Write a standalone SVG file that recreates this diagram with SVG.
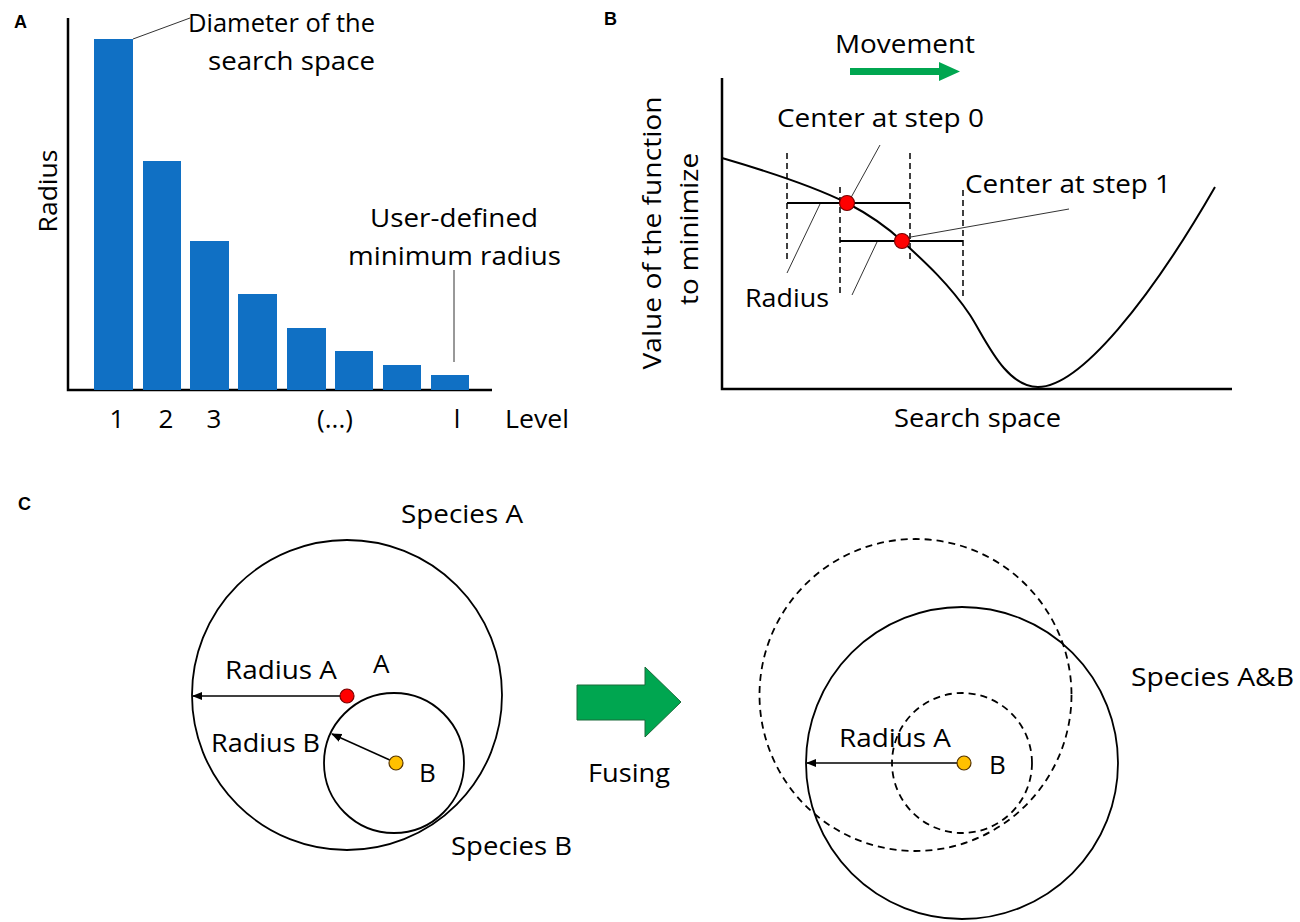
<svg xmlns="http://www.w3.org/2000/svg" width="1300" height="922" viewBox="0 0 1300 922">
<style>
text{font-family:"Open Sans","Liberation Sans",sans-serif;font-size:26px;fill:#000}
.lbl{font-family:"Liberation Sans",Arial,sans-serif;font-weight:bold;font-size:18px}
.axis{stroke:#000;stroke-width:2.5;fill:none}
.bar{fill:#1070C4}
.lead{stroke:#333;stroke-width:1;fill:none}
.dash{stroke:#000;stroke-width:1.5;stroke-dasharray:6,4;fill:none}
.circ{stroke:#000;stroke-width:1.8;fill:none}
.dcirc{stroke:#000;stroke-width:1.8;fill:none;stroke-dasharray:7,5}
.red{fill:#F00;stroke:#700;stroke-width:1.2}
.yel{fill:#FFC000;stroke:#553300;stroke-width:1.2}
.arr{stroke:#000;stroke-width:1.5;fill:none}
</style>
<defs>
<marker id="ah" viewBox="0 0 10 10" refX="9" refY="5" markerWidth="7" markerHeight="7" orient="auto"><path d="M0,1 L10,5 L0,9 z" fill="#000"/></marker>
</defs>

<g id="panelA">
<text class="lbl" x="14" y="28">A</text>
<path class="axis" d="M68,18 V390 H492"/>
<g id="bars">
<rect class="bar" x="94" y="39" width="39" height="351"/>
<rect class="bar" x="143" y="161" width="38" height="229"/>
<rect class="bar" x="190" y="241" width="39" height="149"/>
<rect class="bar" x="238" y="294" width="39" height="96"/>
<rect class="bar" x="287" y="328" width="39" height="62"/>
<rect class="bar" x="335" y="351" width="38" height="39"/>
<rect class="bar" x="383" y="365" width="38" height="25"/>
<rect class="bar" x="431" y="375" width="38" height="15"/>
</g>
<text x="188" y="32" textLength="187" lengthAdjust="spacingAndGlyphs">Diameter of the</text>
<text x="208" y="70" textLength="167" lengthAdjust="spacingAndGlyphs">search space</text>
<path class="lead" d="M133,39 L190,18"/>
<text transform="translate(57,191) rotate(-90)" text-anchor="middle" textLength="83" lengthAdjust="spacingAndGlyphs">Radius</text>
<text x="370" y="227" textLength="168" lengthAdjust="spacingAndGlyphs">User-defined</text>
<text x="348" y="265" textLength="213" lengthAdjust="spacingAndGlyphs">minimum radius</text>
<path class="lead" d="M454,270 V362"/>
<text x="117" y="428" text-anchor="middle">1</text>
<text x="166" y="428" text-anchor="middle">2</text>
<text x="214" y="428" text-anchor="middle">3</text>
<text x="335" y="428" text-anchor="middle">(...)</text>
<text x="457" y="428" text-anchor="middle">l</text>
<text x="505" y="428" textLength="64" lengthAdjust="spacingAndGlyphs">Level</text>
</g>

<g id="panelB">
<text class="lbl" x="604" y="25">B</text>
<text x="835" y="53" textLength="140" lengthAdjust="spacingAndGlyphs">Movement</text>
<path d="M850,68 H939 V62 L960,71.5 L939,81 V75 H850 Z" fill="#00A650"/>
<path class="axis" d="M722,78 V389 H1232"/>
<path d="M722,158 C770,172 815,187 847,203 C870,215 888,228 902,241 C925,262 950,285 970,315 C985,338 1005,387 1038,387 C1080,387 1150,300 1215,187" stroke="#000" stroke-width="2" fill="none"/>
<path class="dash" d="M787,153 V263 M840,187 V295 M910,153 V263 M963,190 V297"/>
<path d="M787,203 H910 M840,241 H963" stroke="#000" stroke-width="2"/>
<text x="777" y="127" textLength="207" lengthAdjust="spacingAndGlyphs">Center at step 0</text>
<path class="lead" d="M880,145 L848,203"/>
<text x="965" y="193" textLength="206" lengthAdjust="spacingAndGlyphs">Center at step 1</text>
<path class="lead" d="M1069,209 L905,238"/>
<text x="745" y="307" textLength="84" lengthAdjust="spacingAndGlyphs">Radius</text>
<path class="lead" d="M787,273 L820,204 M852,295 L877,242"/>
<circle class="red" cx="847" cy="203" r="7.5"/>
<circle class="red" cx="902" cy="241" r="7.5"/>
<text transform="translate(661,233) rotate(-90)" text-anchor="middle" textLength="273" lengthAdjust="spacingAndGlyphs">Value of the function</text>
<text transform="translate(698,229) rotate(-90)" text-anchor="middle" textLength="152" lengthAdjust="spacingAndGlyphs">to minimize</text>
<text x="894" y="427" textLength="167" lengthAdjust="spacingAndGlyphs">Search space</text>
</g>

<g id="panelC">
<text class="lbl" x="18" y="510">C</text>
<g id="speciesA">
<circle class="circ" cx="347" cy="695" r="155"/>
<text x="401" y="523" textLength="122" lengthAdjust="spacingAndGlyphs">Species A</text>
<text x="373" y="673">A</text>
</g>
<g id="speciesB">
<circle class="circ" cx="394" cy="763" r="70"/>
<text x="451" y="855" textLength="121" lengthAdjust="spacingAndGlyphs">Species B</text>
<text x="419" y="782">B</text>
</g>
<g id="connectors">
<line class="arr" x1="342" y1="696" x2="193" y2="696" marker-end="url(#ah)"/>
<line class="arr" x1="392" y1="761" x2="332" y2="734" marker-end="url(#ah)" stroke-width="1.2"/>
<line class="arr" x1="958" y1="763" x2="807" y2="763" marker-end="url(#ah)"/>
</g>
<circle class="red" cx="347" cy="696" r="7"/>
<circle class="yel" cx="396" cy="763" r="7"/>
<text x="225" y="679" textLength="112" lengthAdjust="spacingAndGlyphs">Radius A</text>
<text x="211" y="752" textLength="109" lengthAdjust="spacingAndGlyphs">Radius B</text>
<g id="fusing">
<path d="M577,685 H645 V667 L681,702 L645,737 V720 H577 Z" fill="#00A650" stroke="#1a6b3a" stroke-width="1"/>
<text x="588" y="782" textLength="82" lengthAdjust="spacingAndGlyphs">Fusing</text>
</g>
</g>

<g id="panelD">
<circle class="dcirc" cx="915.5" cy="695" r="156"/>
<circle class="circ" cx="962" cy="763" r="156"/>
<circle class="dcirc" cx="962" cy="763" r="70"/>
<circle class="yel" cx="964" cy="763" r="7"/>
<text x="839" y="747" textLength="112" lengthAdjust="spacingAndGlyphs">Radius A</text>
<text x="989" y="774">B</text>
<text x="1131" y="686" textLength="163" lengthAdjust="spacingAndGlyphs">Species A&amp;B</text>
</g>
</svg>
